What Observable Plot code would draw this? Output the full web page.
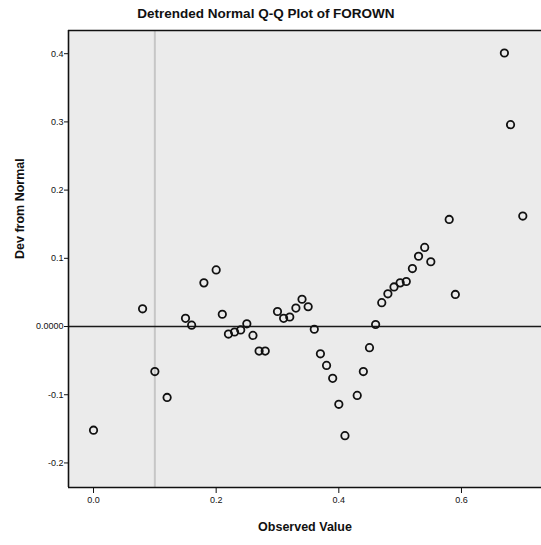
<!DOCTYPE html>
<html><head><meta charset="utf-8">
<script src="https://cdn.jsdelivr.net/npm/d3@7"></script>
<script src="https://cdn.jsdelivr.net/npm/@observablehq/plot@0.6"></script>
<style>
body{margin:0;background:#fff;font-family:"Liberation Sans",Arial,sans-serif;}
#title{height:26px;width:532px;text-align:center;font-weight:bold;font-size:13.5px;line-height:28px;color:#111;}
#chart svg{display:block;}
</style></head><body>
<div id="title">Detrended Normal Q-Q Plot of FOROWN</div>
<div id="chart"></div>
<script>
const observed = [0.00, 0.08, 0.10, 0.12, 0.15, 0.16, 0.18, 0.20, 0.21, 0.22, 0.23, 0.24, 0.25, 0.26, 0.27, 0.28, 0.30, 0.31, 0.32, 0.33, 0.34, 0.35, 0.36, 0.37, 0.38, 0.39, 0.40, 0.41, 0.43, 0.44, 0.45, 0.46, 0.47, 0.48, 0.49, 0.50, 0.51, 0.52, 0.53, 0.54, 0.55, 0.58, 0.59, 0.67, 0.68, 0.70];
const devFromNormal = [-0.152, 0.026, -0.066, -0.104, 0.012, 0.002, 0.064, 0.083, 0.018, -0.011, -0.008, -0.005, 0.004, -0.013, -0.036, -0.036, 0.022, 0.012, 0.014, 0.027, 0.040, 0.029, -0.004, -0.040, -0.057, -0.076, -0.114, -0.160, -0.101, -0.066, -0.031, 0.003, 0.035, 0.048, 0.058, 0.064, 0.066, 0.085, 0.103, 0.116, 0.095, 0.157, 0.047, 0.401, 0.296, 0.162];
const xTicks = [0, 0.2, 0.4, 0.6];
const yTicks = [-0.2, -0.1, 0, 0.1, 0.2, 0.3, 0.4];
const xDomain = [-0.0408, 0.7305];
const yDomain = [-0.236, 0.434];
const refX = [0.1];
const refY = [0];

const data = observed.map((x, i) => ({x, y: devFromNormal[i]}));
const fmtX = d => d.toFixed(1);
const fmtY = d => d === 0 ? "0.0000" : d.toFixed(1);

const chart = Plot.plot({
  width: 541, height: 519,
  marginTop: 4, marginBottom: 58, marginLeft: 68, marginRight: 0,
  style: {fontFamily: "Liberation Sans, Arial, sans-serif", fontSize: "9px", background: "white", color: "#111"},
  x: {domain: xDomain, label: null},
  y: {domain: yDomain, label: null},
  marks: [
    Plot.frame({fill: "#ebebeb", stroke: null}),
    Plot.ruleX(refX, {stroke: "#c6c6c6", strokeWidth: 2}),
    Plot.ruleY(refY, {stroke: "#1a1a1a", strokeWidth: 1.6}),
    Plot.dot(data, {x: "x", y: "y", r: 3.7, stroke: "#111", strokeWidth: 1.8, fill: "none"}),
    Plot.ruleX([xDomain[0]], {stroke: "#111", strokeWidth: 1.6}),
    Plot.ruleY(yDomain, {stroke: "#111", strokeWidth: 1.6}),
    Plot.axisX({ticks: xTicks, tickFormat: fmtX, tickSize: 6, tickPadding: 3, label: null, stroke: "#111"}),
    Plot.axisY({ticks: yTicks, tickFormat: fmtY, tickSize: 4, tickPadding: 1, label: null, stroke: "#111"}),
    Plot.text(["Observed Value"], {frameAnchor: "bottom", dy: 43, text: d => d, fontWeight: "bold", fontSize: 12.5, fill: "#111"}),
    Plot.text(["Dev from Normal"], {frameAnchor: "left", dx: -49, rotate: -90, text: d => d, fontWeight: "bold", fontSize: 12.5, fill: "#111"})
  ]
});
document.getElementById("chart").append(chart);
</script>
</body></html>
